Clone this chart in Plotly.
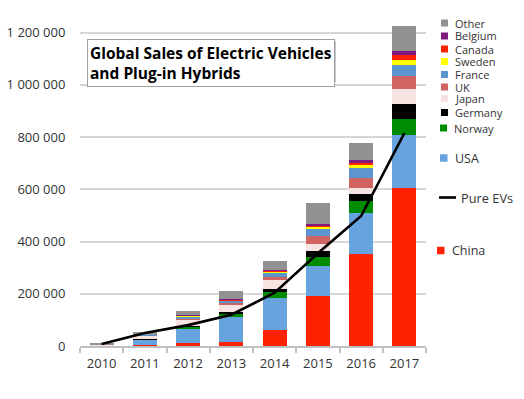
import plotly.graph_objects as go

# ---------------- data ----------------
years = ["2010", "2011", "2012", "2013", "2014", "2015", "2016", "2017"]

china   = [1000, 5000, 12000, 15000, 61000, 193000, 352000, 607000]
usa     = [1500, 18000, 55000, 97000, 124000, 115000, 158000, 200000]
norway  = [500, 2000, 6000, 12000, 22000, 34000, 46000, 62000]
germany = [500, 2000, 4000, 5000, 11000, 23000, 28000, 59000]
japan   = [2500, 13000, 25000, 30000, 33000, 26000, 22000, 56000]
uk      = [500, 1000, 3000, 4000, 14000, 29000, 38000, 49000]
france  = [500, 3000, 9000, 10000, 17000, 28000, 36000, 43000]
sweden  = [0, 300, 1000, 2000, 4000, 9000, 13000, 21000]
canada  = [0, 500, 2000, 3000, 4000, 6000, 9000, 19000]
belgium = [0, 300, 1000, 1000, 2000, 3000, 9000, 14000]
other   = [3000, 7000, 17000, 33000, 33000, 83000, 66000, 96000]

pure_evs = [8000, 50000, 80000, 120000, 204000, 355000, 498000, 815000]

series_names = ["China", "USA", "Norway", "Germany", "Japan", "UK",
                "France", "Sweden", "Canada", "Belgium", "Other"]
series_values = [china, usa, norway, germany, japan, uk,
                 france, sweden, canada, belgium, other]
series_colors = ["#FF2200", "#67A4DF", "#008C00", "#000000", "#F7E3E1",
                 "#CF6460", "#5D96CF", "#FFFF00", "#FF2200", "#7F1A7F", "#919191"]

title_text = "Global Sales of Electric Vehicles<br>and Plug-in Hybrids"
line_name = "Pure EVs"

# ---------------- layout geometry ----------------
W_FIG, H_FIG = 524, 399
L, T, R, B = 80, 22, 98, 53
PW, PH = W_FIG - L - R, H_FIG - T - B
Y_MAX = 1241000

def px(x):
    return (x - L) / PW

def py(y):
    return (T + PH - y) / PH

FONT = "Open Sans, Noto Sans, sans-serif"
TXT = "#333333"

fig = go.Figure()

for name, vals, col in zip(series_names, series_values, series_colors):
    fig.add_trace(go.Bar(x=years, y=vals, name=name,
                         marker=dict(color=col, line=dict(width=0)),
                         showlegend=False))

fig.add_trace(go.Scatter(x=years, y=pure_evs, name=line_name, mode="lines",
                         line=dict(color="black", width=2.6),
                         showlegend=False))

# ---------------- custom legend (positions only) ----------------
legend_pos = {
    # name: (y_px, square_x_px, square_size, text_x_px, font_size)
    "Other":   (23.0, 441, 7, 452.5, 11),
    "Belgium": (36.0, 441, 7, 452.5, 11),
    "Canada":  (49.0, 441, 7, 452.5, 11),
    "Sweden":  (61.5, 441, 7, 452.5, 11),
    "France":  (74.5, 441, 7, 452.5, 11),
    "UK":      (87.0, 441, 7, 452.5, 11),
    "Japan":   (98.5, 441, 7, 452.5, 11),
    "Germany": (112.5, 441, 7, 452.5, 11),
    "Norway":  (128.0, 440, 7, 451.5, 11),
    "USA":     (158.0, 440, 7.5, 452.5, 12.5),
    "China":   (250.5, 437, 7.5, 450.0, 12.5),
}

shapes = []
annotations = []
for name, col in zip(series_names, series_colors):
    yp, sx, ss, tx, fs = legend_pos[name]
    shapes.append(dict(type="rect", xref="paper", yref="paper",
                       x0=px(sx), x1=px(sx + ss), y0=py(yp + ss / 2), y1=py(yp - ss / 2),
                       fillcolor=col, line=dict(width=0)))
    annotations.append(dict(text=name, xref="paper", yref="paper",
                            x=px(tx), y=py(yp), xanchor="left", yanchor="middle",
                            showarrow=False, font=dict(size=fs, color=TXT, family=FONT)))

# line legend
shapes.append(dict(type="line", xref="paper", yref="paper",
                   x0=px(439), x1=px(456), y0=py(197.5), y1=py(197.5),
                   line=dict(color="black", width=2.6)))
annotations.append(dict(text=line_name, xref="paper", yref="paper",
                        x=px(459), y=py(197.5), xanchor="left", yanchor="middle",
                        showarrow=False, font=dict(size=12.8, color=TXT, family=FONT)))

# title box shadow
shapes.append(dict(type="rect", xref="paper", yref="paper",
                   x0=px(89), x1=px(336), y0=py(82), y1=py(41),
                   fillcolor="#c8c8c8", line=dict(width=0), layer="above"))
annotations.append(dict(text="<b>" + title_text.replace("<br>", "</b><br><b>") + "</b>",
                        xref="paper", yref="paper",
                        x=px(87), y=py(38.5), xanchor="left", yanchor="top",
                        align="left", showarrow=False,
                        bgcolor="white", bordercolor="#a0a0a0", borderwidth=1, borderpad=2,
                        font=dict(size=15.5, color="black", family=FONT)))

fig.update_layout(
    width=W_FIG, height=H_FIG,
    margin=dict(l=L, r=R, t=T, b=B, pad=0, autoexpand=False),
    barmode="stack", bargap=0.44,
    paper_bgcolor="white", plot_bgcolor="white",
    separators=". ",
    font=dict(family=FONT, color=TXT, size=13),
    showlegend=False,
    shapes=shapes, annotations=annotations,
    xaxis=dict(type="category", showgrid=False, showline=True, linecolor="#c0c0c0",
               linewidth=1.5, ticks="outside", tickson="boundaries", ticklen=5,
               tickcolor="#c0c0c0", tickwidth=1.5, automargin=False,
               ticklabelstandoff=5,
               tickfont=dict(size=13, color=TXT, family=FONT)),
    yaxis=dict(range=[0, Y_MAX], tickvals=[0, 200000, 400000, 600000, 800000, 1000000, 1200000],
               tickformat=",d", showgrid=True, gridcolor="#d6d6d6", gridwidth=1.5,
               zeroline=False, showline=False, ticks="outside", ticklen=11,
               tickcolor="rgba(0,0,0,0)", automargin=False,
               tickfont=dict(size=13, color=TXT, family=FONT)),
)

fig.write_html("out.html", config={"displayModeBar": False},
               post_script="document.body.style.margin='0px';document.body.style.overflow='hidden';")
